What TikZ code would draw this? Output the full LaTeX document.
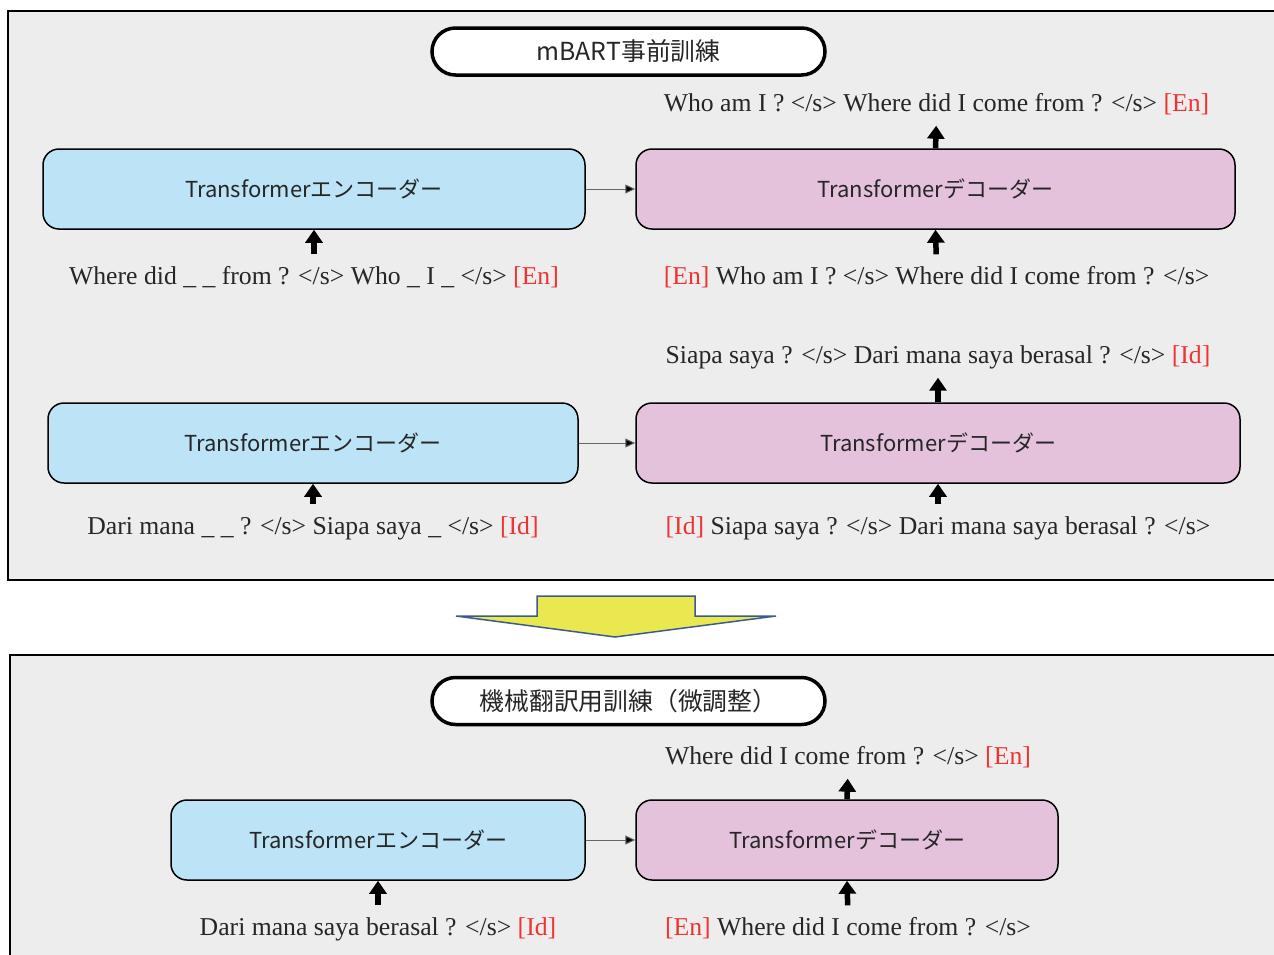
\documentclass[tikz,border=0pt]{standalone}
\usepackage{fontspec}
\setmainfont{Liberation Serif}
\newfontfamily\jp{Noto Sans CJK JP}
\usetikzlibrary{arrows.meta,shapes.misc}
\definecolor{panelbg}{HTML}{EDEDED}
\definecolor{encfill}{HTML}{BDE3F6}
\definecolor{decfill}{HTML}{E4C2DC}
\definecolor{tokred}{HTML}{EE3333}
\definecolor{yel}{HTML}{E9E84F}
\definecolor{yelborder}{HTML}{3B5B8F}
\tikzset{
  x=1pt,y=-1pt,
  panel/.style={fill=panelbg,draw=black,line width=2.5pt},
  titlebox/.style={rounded rectangle,draw=black,fill=white,line width=3.5pt,minimum width=393pt,minimum height=47pt,inner sep=0pt,font=\jp\fontsize{24.8}{28}\selectfont,text=black!85},
  encbox/.style={draw=black,line width=1.5pt,rounded corners=16pt,fill=encfill,minimum height=80pt,inner sep=0pt,font=\jp\fontsize{22}{26}\selectfont,text=black!85},
  decbox/.style={encbox,fill=decfill},
  tok/.style={anchor=base,inner sep=0pt,text height=18pt,text depth=6pt,font=\fontsize{25.7}{30}\selectfont,text=black!85},
  upin/.style={line width=5.5pt,-{Triangle[width=17pt,length=13pt]},shorten <=12pt},
  upout/.style={line width=5.5pt,-{Triangle[width=17pt,length=13pt]},shorten >=8pt},
  link/.style={draw=black!60,line width=1pt,-{Triangle[width=9pt,length=10pt,fill=black]}}
}
\newcommand{\R}[1]{\textcolor{tokred}{#1}}
\newcommand{\es}{</s>}
\begin{document}
\begin{tikzpicture}
\useasboundingbox (0,0) rectangle (1274,954);
\clip (0,0) rectangle (1274,954);
\fill[white] (0,0) rectangle (1274,954);
% panels
\draw[panel] (8,11) rectangle (1300,580);
\draw[panel] (10,655) rectangle (1300,1000);
% big yellow arrow
\draw[fill=yel,draw=yelborder,line width=1.5pt,line join=miter]
  (456,616) -- (537,616) -- (537,596) -- (695,596) -- (695,616) -- (776,616) -- (615,637) -- cycle;

% ---------- pretraining ----------
\node[titlebox] (t1) at (628.5,51.5) {mBART事前訓練};

\node[encbox,minimum width=542pt] (enc1) at (314,189) {Transformerエンコーダー};
\node[decbox,minimum width=599pt] (dec1) at (935.5,189) {Transformerデコーダー};
\node[tok] (out1) at (936.5,111.5) {Who am I ? \es{} Where did I come from ? \es{} \R{[En]}};
\node[tok] (in1e) at (314,284.5) {Where did \_ \_ from ? \es{} Who \_ I \_ \es{} \R{[En]}};
\node[tok] (in1d) at (936.5,284.5) {\R{[En]} Who am I ? \es{} Where did I come from ? \es};
\draw[link] (enc1.east) -- (dec1.west);
\draw[upin] (in1e.north) -- (enc1.south);
\draw[upin] (in1d.north) -- (dec1.south);
\draw[upout] (dec1.north) -- (out1.south);

\node[encbox,minimum width=530pt] (enc2) at (313,443) {Transformerエンコーダー};
\node[decbox,minimum width=604pt] (dec2) at (938,443) {Transformerデコーダー};
\node[tok] (out2) at (938,363.5) {Siapa saya ? \es{} Dari mana saya berasal ? \es{} \R{[Id]}};
\node[tok] (in2e) at (313,534.5) {Dari mana \_ \_ ? \es{} Siapa saya \_ \es{} \R{[Id]}};
\node[tok] (in2d) at (938,534.5) {\R{[Id]} Siapa saya ? \es{} Dari mana saya berasal ? \es};
\draw[link] (enc2.east) -- (dec2.west);
\draw[upin] (in2e.north) -- (enc2.south);
\draw[upin] (in2d.north) -- (dec2.south);
\draw[upout] (dec2.north) -- (out2.south);

% ---------- fine-tuning ----------
\node[titlebox] (t2) at (628.5,701) {機械翻訳用訓練（微調整）};

\node[encbox,minimum width=414pt] (enc3) at (378,840) {Transformerエンコーダー};
\node[decbox,minimum width=422pt] (dec3) at (847,840) {Transformerデコーダー};
\node[tok] (out3) at (848,764.5) {Where did I come from ? \es{} \R{[En]}};
\node[tok] (in3e) at (378,935.5) {Dari mana saya berasal ? \es{} \R{[Id]}};
\node[tok] (in3d) at (848,935.5) {\R{[En]} Where did I come from ? \es};
\draw[link] (enc3.east) -- (dec3.west);
\draw[upin] (in3e.north) -- (enc3.south);
\draw[upin] (in3d.north) -- (dec3.south);
\draw[upout] (dec3.north) -- (out3.south);
\end{tikzpicture}
\end{document}
